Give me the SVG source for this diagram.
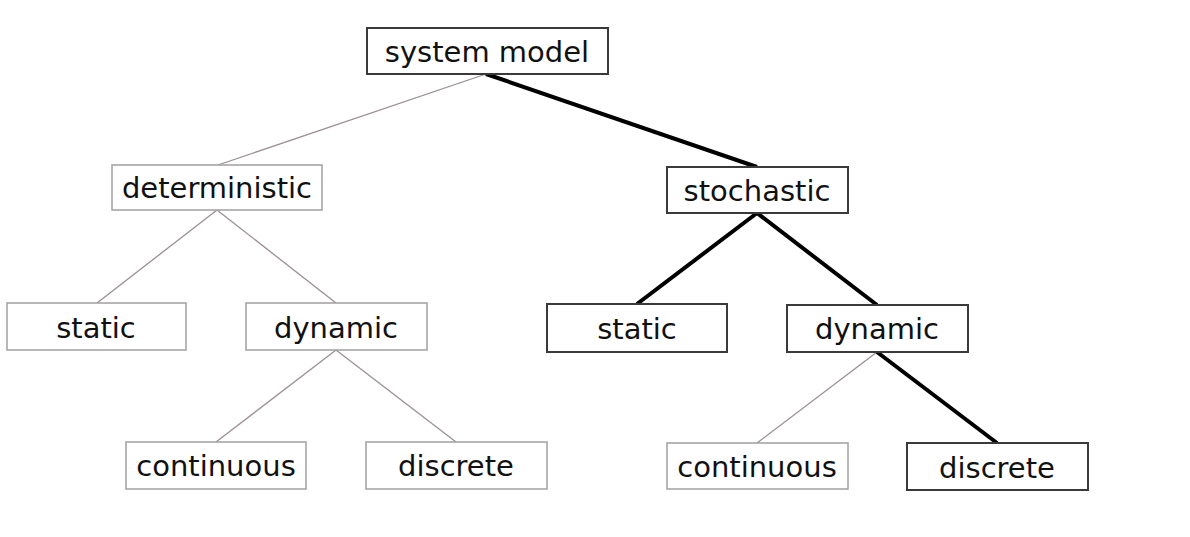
<svg xmlns="http://www.w3.org/2000/svg" width="1190" height="537" viewBox="0 0 1190 537">
<style>
.box{fill:#fff;stroke:#a0a0a0;stroke-width:1.5}
.hi .box{stroke:#3a3a3a;stroke-width:2}
text{font-family:"DejaVu Sans",Verdana,sans-serif;font-size:29px;fill:#111;text-anchor:middle}
.thin{stroke:#9a9090;stroke-width:1.3;fill:none}
.thick{stroke:#000;stroke-width:4;fill:none}
</style>
<rect width="1190" height="537" fill="#fff"/>
<g id="connectors">
<line class="thin" x1="486" y1="74" x2="218" y2="165"/>
<line class="thick" x1="486" y1="74" x2="757" y2="167"/>
<line class="thin" x1="217" y1="210" x2="97" y2="303"/>
<line class="thin" x1="217" y1="210" x2="336" y2="303"/>
<line class="thick" x1="757" y1="213" x2="637" y2="304"/>
<line class="thick" x1="757" y1="213" x2="877" y2="305"/>
<line class="thin" x1="336" y1="350" x2="216" y2="442"/>
<line class="thin" x1="336" y1="350" x2="456" y2="442"/>
<line class="thin" x1="877" y1="352" x2="757" y2="443"/>
<line class="thick" x1="877" y1="352" x2="997" y2="443"/>
</g>
<g id="system-model" class="hi"><rect class="box" x="367" y="28" width="241" height="46"/><text x="487" y="62">system model</text></g>
<g id="deterministic"><rect class="box" x="112" y="165" width="210" height="45"/><text x="217" y="198">deterministic</text></g>
<g id="stochastic" class="hi"><rect class="box" x="667" y="167" width="181" height="46"/><text x="757" y="201">stochastic</text></g>
<g id="static-det"><rect class="box" x="7" y="303" width="179" height="47"/><text x="96" y="338">static</text></g>
<g id="dynamic-det"><rect class="box" x="246" y="303" width="181" height="47"/><text x="336" y="338">dynamic</text></g>
<g id="static-sto" class="hi"><rect class="box" x="547" y="304" width="180" height="48"/><text x="637" y="339">static</text></g>
<g id="dynamic-sto" class="hi"><rect class="box" x="787" y="305" width="181" height="47"/><text x="877" y="339">dynamic</text></g>
<g id="continuous-det"><rect class="box" x="126" y="442" width="180" height="47"/><text x="216" y="476">continuous</text></g>
<g id="discrete-det"><rect class="box" x="366" y="442" width="181" height="47"/><text x="456" y="476">discrete</text></g>
<g id="continuous-sto"><rect class="box" x="667" y="443" width="181" height="46"/><text x="757" y="477">continuous</text></g>
<g id="discrete-sto" class="hi"><rect class="box" x="907" y="443" width="181" height="47"/><text x="997" y="478">discrete</text></g>
</svg>
